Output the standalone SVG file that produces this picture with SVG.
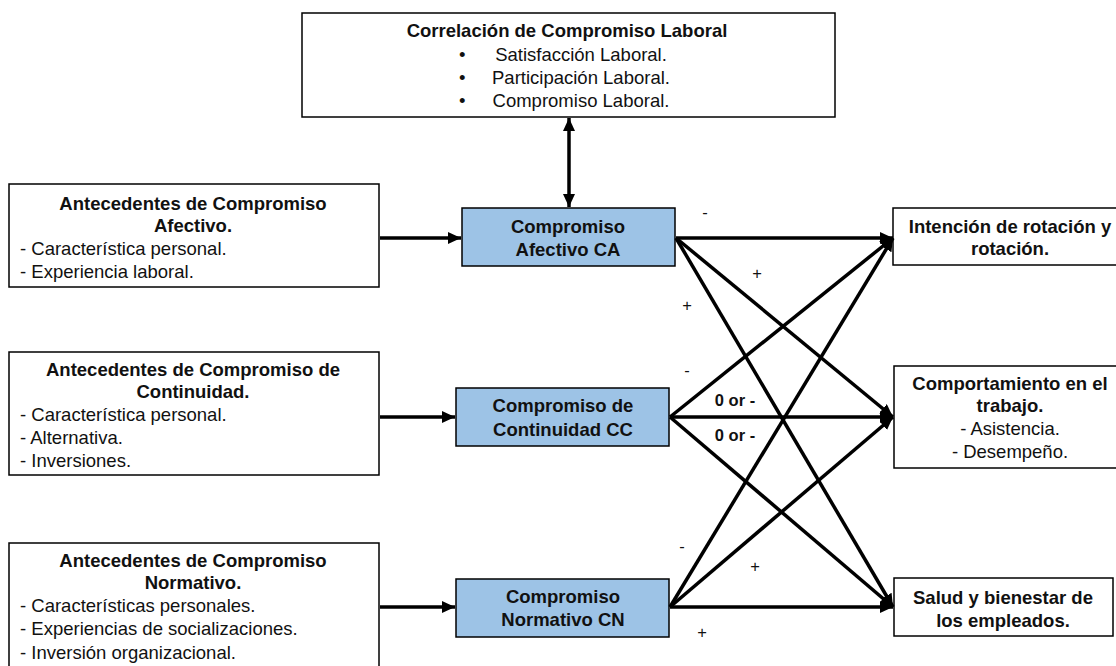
<svg xmlns="http://www.w3.org/2000/svg" width="1116" height="666" viewBox="0 0 1116 666">
<defs>
<marker id="ah" markerUnits="userSpaceOnUse" markerWidth="14" markerHeight="12" refX="13" refY="6" orient="auto-start-reverse">
<path d="M0,0 L13,6 L0,12 Z" fill="#000"/>
</marker>
<style>
.box{fill:#fff;stroke:#000;stroke-width:1.5}
.blue{fill:#9dc3e6;stroke:#000;stroke-width:1.5}
text{font-family:"Liberation Sans",Arial,sans-serif;font-size:18.5px;fill:#111}
.b{font-weight:bold}
.c{text-anchor:middle}
.con{stroke:#000;stroke-width:3.5;fill:none}
.lbl{font-size:16.5px}
</style>
</defs>

<g id="correlacion">
<rect class="box" x="302" y="13" width="533" height="104"/>
<text class="b c" x="567" y="37">Correlación de Compromiso Laboral</text>
<text x="459" y="61">•</text><text class="c" x="581" y="61">Satisfacción Laboral.</text>
<text x="459" y="84">•</text><text class="c" x="581" y="84">Participación Laboral.</text>
<text x="459" y="107">•</text><text class="c" x="581" y="107">Compromiso Laboral.</text>
</g>

<g id="ant-afectivo">
<rect class="box" x="9" y="184" width="370" height="103"/>
<text class="b c" x="193" y="210">Antecedentes de Compromiso</text>
<text class="b c" x="193" y="232">Afectivo.</text>
<text x="20" y="255">- Característica personal.</text>
<text x="20" y="278">- Experiencia laboral.</text>
</g>

<g id="ant-continuidad">
<rect class="box" x="9" y="352" width="370" height="123"/>
<text class="b c" x="193" y="376">Antecedentes de Compromiso de</text>
<text class="b c" x="193" y="398">Continuidad.</text>
<text x="20" y="421">- Característica personal.</text>
<text x="20" y="444">- Alternativa.</text>
<text x="20" y="467">- Inversiones.</text>
</g>

<g id="ant-normativo">
<rect class="box" x="9" y="543" width="370" height="130"/>
<text class="b c" x="193" y="567">Antecedentes de Compromiso</text>
<text class="b c" x="193" y="589">Normativo.</text>
<text x="20" y="612">- Características personales.</text>
<text x="20" y="635">- Experiencias de socializaciones.</text>
<text x="20" y="659">- Inversión organizacional.</text>
</g>

<g id="ca">
<rect class="blue" x="462" y="208" width="213" height="58"/>
<text class="b c" x="568" y="233">Compromiso</text>
<text class="b c" x="568" y="256">Afectivo CA</text>
</g>

<g id="cc">
<rect class="blue" x="456" y="388" width="213" height="58"/>
<text class="b c" x="563" y="412">Compromiso de</text>
<text class="b c" x="563" y="436">Continuidad CC</text>
</g>

<g id="cn">
<rect class="blue" x="456" y="579" width="213" height="58"/>
<text class="b c" x="563" y="603">Compromiso</text>
<text class="b c" x="563" y="626">Normativo CN</text>
</g>

<g id="rotacion">
<rect class="box" x="893" y="208" width="232" height="57"/>
<text class="b c" x="1010" y="233">Intención de rotación y</text>
<text class="b c" x="1010" y="255">rotación.</text>
</g>

<g id="comportamiento">
<rect class="box" x="894" y="366" width="231" height="102"/>
<text class="b c" x="1010" y="390">Comportamiento en el</text>
<text class="b c" x="1010" y="412">trabajo.</text>
<text class="c" x="1010" y="435">- Asistencia.</text>
<text class="c" x="1010" y="458">- Desempeño.</text>
</g>

<g id="salud">
<rect class="box" x="894" y="578" width="219" height="58"/>
<text class="b c" x="1003" y="604">Salud y bienestar de</text>
<text class="b c" x="1003" y="627">los empleados.</text>
</g>

<g id="connectors">
<line class="con" x1="569" y1="118" x2="569" y2="207" stroke-width="3" marker-start="url(#ah)" marker-end="url(#ah)"/>
<line class="con" x1="380" y1="238" x2="461" y2="238" marker-end="url(#ah)"/>
<line class="con" x1="380" y1="417" x2="455" y2="417" marker-end="url(#ah)"/>
<line class="con" x1="380" y1="607" x2="455" y2="607" marker-end="url(#ah)"/>

<line class="con" x1="676" y1="238" x2="893" y2="238" marker-end="url(#ah)"/>
<line class="con" x1="676" y1="238" x2="893" y2="417" marker-end="url(#ah)"/>
<line class="con" x1="676" y1="238" x2="893" y2="607" marker-end="url(#ah)"/>

<line class="con" x1="670" y1="417" x2="893" y2="238" marker-end="url(#ah)"/>
<line class="con" x1="670" y1="417" x2="893" y2="417" marker-end="url(#ah)"/>
<line class="con" x1="670" y1="417" x2="893" y2="607" marker-end="url(#ah)"/>

<line class="con" x1="670" y1="607" x2="893" y2="238" marker-end="url(#ah)"/>
<line class="con" x1="670" y1="607" x2="893" y2="417" marker-end="url(#ah)"/>
<line class="con" x1="670" y1="607" x2="893" y2="607" marker-end="url(#ah)"/>

<text class="lbl c" x="705" y="218">-</text>
<text class="lbl c" x="757" y="279">+</text>
<text class="lbl c" x="687" y="311">+</text>
<text class="lbl c" x="687" y="376">-</text>
<text class="lbl b c" x="735" y="406">0 or -</text>
<text class="lbl b c" x="735" y="441">0 or -</text>
<text class="lbl c" x="682" y="552">-</text>
<text class="lbl c" x="755" y="572">+</text>
<text class="lbl c" x="702" y="638">+</text>
</g>
</svg>
